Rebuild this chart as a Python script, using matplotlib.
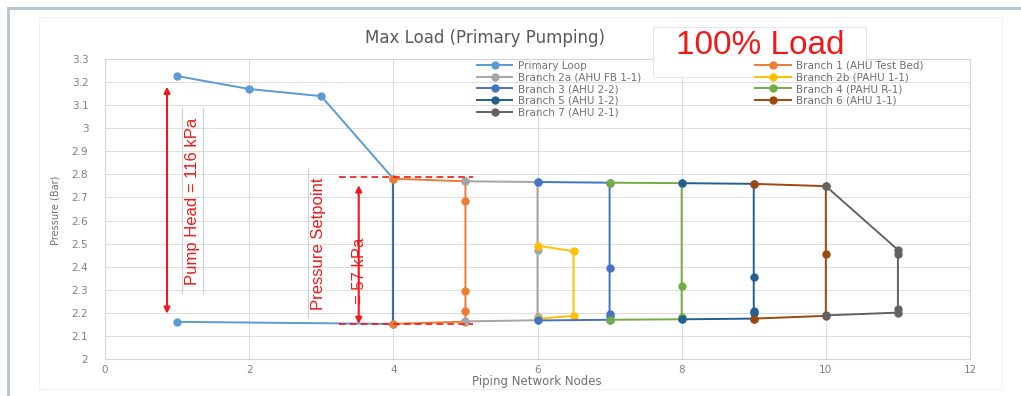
import numpy as np
import matplotlib
matplotlib.use("Agg")
from matplotlib import pyplot as plt
from matplotlib.lines import Line2D
from matplotlib.patches import Rectangle

# series values (node, pressure in bar)
primary_x = [1, 2, 3, 4, np.nan, 4, 1]
primary_y = [3.226, 3.170, 3.139, 2.781, np.nan, 2.152, 2.161]
bypass_x = [4, 4]
bypass_y = [2.781, 2.152]
b1_x = [4, 5, 5, 5, 5, 5, 4]
b1_y = [2.781, 2.770, 2.684, 2.296, 2.209, 2.162, 2.152]
b2a_x = [5, 6, 6, 6, 6, 5]
b2a_y = [2.770, 2.767, 2.473, 2.183, 2.168, 2.163]
b2b_x = [6, 6.5, 6.5, 6]
b2b_y = [2.491, 2.467, 2.187, 2.174]
b3_x = [6, 7, 7, 7, 7, 7, 6]
b3_y = [2.767, 2.764, 2.394, 2.194, 2.187, 2.170, 2.167]
b4_x = [7, 8, 8, 8, 8, 7]
b4_y = [2.764, 2.762, 2.317, 2.184, 2.172, 2.170]
b5_x = [8, 9, 9, 9, 9, 9, 8]
b5_y = [2.762, 2.759, 2.357, 2.209, 2.201, 2.175, 2.172]
b6_x = [9, 10, 10, 10, 9]
b6_y = [2.759, 2.749, 2.455, 2.187, 2.175]
b7_x = [10, 11, 11, 11, 11, 10]
b7_y = [2.749, 2.473, 2.455, 2.216, 2.201, 2.189]

labels = ["Primary Loop", "Branch 1 (AHU Test Bed)", "Branch 2a (AHU FB 1-1)",
          "Branch 2b (PAHU 1-1)", "Branch 3 (AHU 2-2)", "Branch 4 (PAHU R-1)",
          "Branch 5 (AHU 1-2)", "Branch 6 (AHU 1-1)", "Branch 7 (AHU 2-1)"]
colors = ["#5B9BD5", "#ED7D31", "#A5A5A5", "#FFC000", "#4472C4", "#70AD47",
          "#255E91", "#9E480E", "#636363"]
xs = [primary_x, b1_x, b2a_x, b2b_x, b3_x, b4_x, b5_x, b6_x, b7_x]
ys = [primary_y, b1_y, b2a_y, b2b_y, b3_y, b4_y, b5_y, b6_y, b7_y]

W, H = 1021, 396
fig = plt.figure(figsize=(W / 100, H / 100), dpi=100)
ax = fig.add_axes([105 / W, 1 - 359 / H, 865 / W, 300 / H])

lines = {}
for lab, c, x, y in zip(labels, colors, xs, ys):
    ln, = ax.plot(x, y, color=c, lw=1.4, marker="o", ms=5, label=lab, zorder=3)
    lines[lab] = ln
ax.plot(bypass_x, bypass_y, color="#3E6E9C", lw=1.6, zorder=2)

ax.set_xlim(0, 12)
ax.set_ylim(2, 3.3)
ax.set_xticks(range(0, 13, 2))
yt = np.round(np.arange(2, 3.31, 0.1), 1)
ax.set_yticks(yt)
ax.set_yticklabels([f"{v:g}" for v in yt])
ax.tick_params(length=0, labelsize=7.5, labelcolor="#808080")
ax.tick_params(axis="y", pad=12)
ax.tick_params(axis="x", pad=4)
ax.grid(True, color="#dcdcdc", lw=0.7)
ax.set_axisbelow(True)
for s in ax.spines.values():
    s.set_color("#d4d4d4")
    s.set_linewidth(0.8)

order = ["Primary Loop", "Branch 2a (AHU FB 1-1)", "Branch 3 (AHU 2-2)",
         "Branch 5 (AHU 1-2)", "Branch 7 (AHU 2-1)", "Branch 1 (AHU Test Bed)",
         "Branch 2b (PAHU 1-1)", "Branch 4 (PAHU R-1)", "Branch 6 (AHU 1-1)"]
leg = fig.legend([lines[k] for k in order], order, loc="upper left",
                 bbox_to_anchor=(477 / W, 1 - 61 / H), ncol=2, frameon=False,
                 fontsize=7.5, labelspacing=0.15, handlelength=3.4,
                 handletextpad=0.5, columnspacing=11.0, borderpad=0,
                 borderaxespad=0)
for t in leg.get_texts():
    t.set_color("#707070")

# annotations
red = "#F01818"
ax.annotate("", xy=(0.86, 3.18), xytext=(0.86, 2.196),
            arrowprops=dict(arrowstyle="<|-|>", color=red, lw=1.5,
                            mutation_scale=9, shrinkA=0, shrinkB=0))
ax.text(1.22, 2.685, "Pump Head = 116 kPa", rotation=90, color=red,
        fontsize=12, family="Liberation Sans", ha="center", va="center")
ax.text(2.96, 2.50, "Pressure Setpoint", rotation=90, color=red,
        fontsize=12, family="Liberation Sans", ha="center", va="center")
ax.annotate("", xy=(3.52, 2.753), xytext=(3.52, 2.152),
            arrowprops=dict(arrowstyle="<|-|>", color=red, lw=1.5,
                            mutation_scale=9, shrinkA=0, shrinkB=0))
ax.text(3.53, 2.383, "= 57 kPa", rotation=90, color=red,
        fontsize=12, family="Liberation Sans", ha="center", va="center")
ax.plot([3.24, 5.10], [2.788, 2.788], color=red, lw=1.2, ls=(0, (4, 2.5)), zorder=4)
ax.plot([3.24, 5.10], [2.153, 2.153], color=red, lw=1.2, ls=(0, (4, 2.5)), zorder=4)
# faint text-box edges
ax.plot([1.07, 1.07], [3.087, 2.287], color="#cfcfcf", lw=0.8, zorder=1)
ax.plot([1.36, 1.36], [3.087, 2.287], color="#cfcfcf", lw=0.8, zorder=1)
ax.plot([2.82, 2.82], [2.826, 2.183], color="#cfcfcf", lw=0.8, zorder=1)

fig.text(485 / W, 1 - 38 / H, "Max Load (Primary Pumping)", fontsize=12,
         color="#595959", ha="center", va="center")
fig.text(537 / W, 1 - 381 / H, "Piping Network Nodes", fontsize=8.5,
         color="#707070", ha="center", va="center")
fig.text(55 / W, 1 - 210 / H, "Pressure (Bar)", fontsize=7, rotation=90,
         color="#707070", ha="center", va="center")

# frame of the screenshot and chart area
fig.patches.append(Rectangle((39 / W, 1 - 389 / H), 963 / W, 372 / H,
                             transform=fig.transFigure, fill=False,
                             edgecolor="#f0f0f0", lw=0.8, zorder=-1))
fig.lines.append(Line2D([8 / W, 1], [1 - 7.5 / H, 1 - 7.5 / H],
                        transform=fig.transFigure, color="#B4C4D2", lw=2))
fig.lines.append(Line2D([8 / W, 8 / W], [0, 1 - 7.5 / H],
                        transform=fig.transFigure, color="#B4C4D2", lw=2))

fig.patches.append(Rectangle((653 / W, 1 - 77 / H), 213 / W, 50 / H,
                             transform=fig.transFigure, facecolor="white",
                             edgecolor="#e6e6e6", lw=0.8, zorder=5))
fig.text(760 / W, 1 - 45 / H, "100% Load", fontsize=24, color=red,
         family="Liberation Sans", ha="center", va="center", zorder=6)

fig.savefig("out.png", dpi=100)
